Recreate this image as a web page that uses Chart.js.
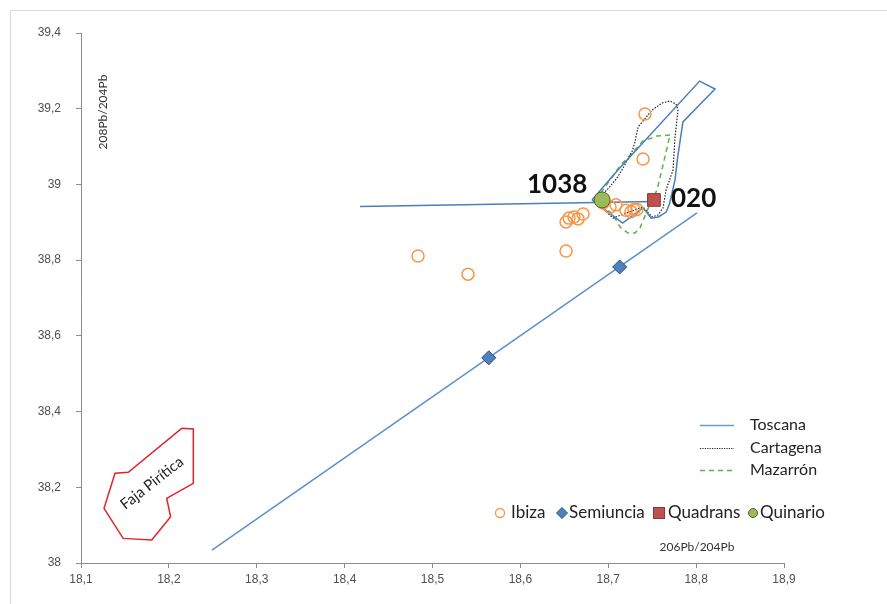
<!DOCTYPE html>
<html>
<head>
<meta charset="utf-8">
<script src="https://cdn.jsdelivr.net/npm/chart.js@4"></script>
<style>
  body { margin: 0; background: #fff; }
  canvas { display: block; }
</style>
</head>
<body>
<canvas id="c" width="887" height="604"></canvas>
<script>
// 206Pb/204Pb (x) , 208Pb/204Pb (y)
const xTicks = { min: 18.1, max: 18.9, step: 0.1 };
const yTicks = { min: 38, max: 39.4, step: 0.2 };

const ibiza = [
  [18.4835, 38.811], [18.5404, 38.763], [18.652, 38.824], [18.652, 38.901],
  [18.6553, 38.911], [18.661, 38.914], [18.6656, 38.909], [18.6713, 38.922],
  [18.694, 38.951], [18.702, 38.940], [18.7088, 38.946], [18.7202, 38.932],
  [18.7259, 38.928], [18.7293, 38.934], [18.7327, 38.934], [18.7396, 39.067],
  [18.7418, 39.186]
];
const semiuncia = [[18.564, 38.542], [18.713, 38.782]];
const semiunciaTrend = [[18.249, 38.034], [18.801, 38.925]];
const quadrans = [[18.752, 38.959]];
const quinario = [[18.693, 38.959]];

const toscanaPoly = [
  [18.6815, 38.959], [18.711, 39.038], [18.804, 39.273], [18.8215, 39.252],
  [18.785, 39.165], [18.779, 39.072], [18.776, 39.012], [18.770, 38.951],
  [18.766, 38.927], [18.757, 38.914], [18.749, 38.911], [18.7395, 38.938],
  [18.7164, 38.898], [18.6815, 38.959]
];
const toscanaLine = [[18.4175, 38.942], [18.753, 38.955]];

const cartagena = [
  [18.6883, 38.9668], [18.6986, 38.9853], [18.71, 39.017], [18.7168, 39.0434],
  [18.727, 39.0857], [18.7304, 39.1121], [18.7339, 39.1517], [18.7499, 39.1966],
  [18.7613, 39.2151], [18.7703, 39.2204], [18.7771, 39.2125], [18.7794, 39.1966],
  [18.776, 39.1253], [18.7737, 39.0381], [18.7658, 38.9853], [18.7623, 38.9377],
  [18.7566, 38.9193], [18.7499, 38.914], [18.7395, 38.9404], [18.7054, 38.9113],
  [18.6906, 38.943], [18.6883, 38.9668]
];

const mazarron = [
  [18.7703, 39.1306], [18.7555, 39.1279], [18.7396, 39.1147], [18.7248, 39.0777],
  [18.7134, 39.0487], [18.702, 39.0117], [18.6906, 38.9747], [18.6917, 38.9404],
  [18.7043, 38.9245], [18.7134, 38.8876], [18.7225, 38.8717], [18.7304, 38.8717],
  [18.7361, 38.8849], [18.7475, 38.9483], [18.7555, 38.9853], [18.7623, 39.0513],
  [18.7669, 39.0962], [18.7703, 39.1306]
];

const fajaPiritica = [
  [18.2146, 38.3558], [18.2278, 38.354], [18.2278, 38.2105], [18.1975, 38.171],
  [18.202, 38.122], [18.1805, 38.061], [18.148, 38.065], [18.1262, 38.1445],
  [18.1387, 38.237], [18.1538, 38.2396], [18.2146, 38.3558]
];

const pts = (arr) => arr.map(([x, y]) => ({ x, y }));
const fmt = (v) => String(Math.round(v * 10) / 10).replace('.', ',');

const BLUE = '#4a7ebb';
const ORANGE = '#f79646';
const GREEN_DASH = '#5db443';
const RED = '#e0242c';

function lineSet(data, color, width, dash, order) {
  return {
    data: pts(data), showLine: true, borderColor: color, borderWidth: width,
    borderDash: dash || [], pointRadius: 0, pointHoverRadius: 0, fill: false,
    tension: 0, order: order
  };
}

const overlay = {
  id: 'overlay',
  afterDraw(chart) {
    const ctx = chart.ctx;
    ctx.save();

    // frame
    ctx.strokeStyle = '#d9d9d9';
    ctx.lineWidth = 1;
    ctx.strokeRect(10.5, 10.5, 890, 610);

    // point labels
    ctx.fillStyle = '#111';
    ctx.font = 'bold 26px Lato, "Liberation Sans", sans-serif';
    ctx.textBaseline = 'alphabetic';
    ctx.textAlign = 'left';
    ctx.fillText('1038', 527, 193);
    ctx.fillText('020', 671, 207);

    // Faja Piritica label
    ctx.save();
    ctx.translate(152, 483);
    ctx.rotate(-38 * Math.PI / 180);
    ctx.font = '15px Lato, sans-serif';
    ctx.textAlign = 'center';
    ctx.textBaseline = 'middle';
    ctx.fillStyle = '#222';
    ctx.fillText('Faja Pirítica', 0, 0);
    ctx.restore();

    // axis titles
    ctx.fillStyle = '#333';
    ctx.font = '12px Lato, sans-serif';
    ctx.textAlign = 'center';
    ctx.textBaseline = 'middle';
    ctx.save();
    ctx.translate(103, 112);
    ctx.rotate(-Math.PI / 2);
    ctx.fillText('208Pb/204Pb', 0, 0);
    ctx.restore();
    ctx.fillText('206Pb/204Pb', 697, 547);

    // line legend
    const lineLegend = [
      { label: 'Toscana', color: '#6a9bd4', dash: [], w: 1.5, y: 425 },
      { label: 'Cartagena', color: '#222', dash: [1.2, 1.2], w: 1.2, y: 448 },
      { label: 'Mazarrón', color: GREEN_DASH, dash: [5, 4], w: 1.5, y: 470 }
    ];
    ctx.font = '16px Lato, sans-serif';
    ctx.textAlign = 'left';
    lineLegend.forEach(it => {
      ctx.beginPath();
      ctx.setLineDash(it.dash);
      ctx.strokeStyle = it.color;
      ctx.lineWidth = it.w;
      ctx.moveTo(700, it.y + 0.5);
      ctx.lineTo(734, it.y + 0.5);
      ctx.stroke();
      ctx.setLineDash([]);
      ctx.fillStyle = '#222';
      ctx.fillText(it.label, 750, it.y);
    });

    // marker legend
    const ly = 513;
    ctx.font = '17px Lato, sans-serif';
    ctx.fillStyle = '#222';
    // Ibiza
    ctx.beginPath();
    ctx.arc(500, ly, 4.5, 0, Math.PI * 2);
    ctx.strokeStyle = ORANGE; ctx.lineWidth = 1.3; ctx.stroke();
    ctx.fillText('Ibiza', 511, ly);
    // Semiuncia
    ctx.beginPath();
    ctx.moveTo(562, ly - 5.5); ctx.lineTo(567.5, ly); ctx.lineTo(562, ly + 5.5); ctx.lineTo(556.5, ly);
    ctx.closePath();
    ctx.fillStyle = '#4f81bd'; ctx.fill();
    ctx.strokeStyle = '#2c4d75'; ctx.lineWidth = 1; ctx.stroke();
    ctx.fillStyle = '#222';
    ctx.fillText('Semiuncia', 569, ly);
    // Quadrans
    ctx.fillStyle = '#c0504d';
    ctx.fillRect(653.5, ly - 5.5, 11, 11);
    ctx.strokeStyle = '#8c3836'; ctx.strokeRect(653.5, ly - 5.5, 11, 11);
    ctx.fillStyle = '#222';
    ctx.fillText('Quadrans', 668, ly);
    // Quinario
    ctx.beginPath();
    ctx.arc(753, ly, 4.5, 0, Math.PI * 2);
    ctx.fillStyle = '#9bbb59'; ctx.fill();
    ctx.strokeStyle = '#4f6228'; ctx.lineWidth = 1; ctx.stroke();
    ctx.fillStyle = '#222';
    ctx.fillText('Quinario', 760, ly);

    ctx.restore();
  }
};

new Chart(document.getElementById('c'), {
  type: 'scatter',
  data: {
    datasets: [
      {
        label: 'Quinario', data: pts(quinario), pointStyle: 'circle', pointRadius: 8,
        backgroundColor: '#9bbb59', borderColor: '#4f6228', borderWidth: 1, order: 1
      },
      {
        label: 'Quadrans', data: pts(quadrans), pointStyle: 'rect', pointRadius: 9,
        backgroundColor: '#c0504d', borderColor: '#8c3836', borderWidth: 1, order: 2
      },
      {
        label: 'Semiuncia', data: pts(semiuncia), pointStyle: 'rectRot', pointRadius: 7,
        backgroundColor: '#4f81bd', borderColor: '#2c4d75', borderWidth: 1, order: 3
      },
      {
        label: 'Ibiza', data: pts(ibiza), pointStyle: 'circle', pointRadius: 6,
        backgroundColor: 'rgba(0,0,0,0)', borderColor: ORANGE, borderWidth: 1.5, order: 4
      },
      Object.assign(lineSet(toscanaLine, BLUE, 1.5, null, 5), { label: 'Toscana' }),
      Object.assign(lineSet(toscanaPoly, BLUE, 1.5, null, 6), { label: 'Toscana' }),
      Object.assign(lineSet(cartagena, '#222', 1.2, [1.5, 1.5], 7), { label: 'Cartagena' }),
      Object.assign(lineSet(mazarron, GREEN_DASH, 1.5, [5, 4], 8), { label: 'Mazarrón' }),
      Object.assign(lineSet(semiunciaTrend, '#5b8fcf', 1.5, null, 9), { label: 'trend' }),
      Object.assign(lineSet(fajaPiritica, RED, 1.5, null, 10), { label: 'Faja Pirítica' })
    ]
  },
  options: {
    responsive: false,
    animation: false,
    layout: { padding: { top: 33, right: 103, left: 0, bottom: 0 } },
    plugins: { legend: { display: false }, tooltip: { enabled: false } },
    scales: {
      x: {
        type: 'linear', min: xTicks.min, max: xTicks.max,
        afterFit: (s) => { s.height = 41; },
        border: { display: true, color: '#8c8c8c', width: 1 },
        grid: { display: true, drawOnChartArea: false, drawTicks: true, tickLength: 5, color: '#8c8c8c' },
        ticks: {
          stepSize: xTicks.step, padding: 4, color: '#505050',
          font: { family: '"Liberation Sans Narrow", "Liberation Sans", sans-serif', size: 12 },
          callback: (v) => fmt(v)
        }
      },
      y: {
        type: 'linear', min: yTicks.min, max: yTicks.max,
        afterFit: (s) => { s.width = 81; },
        border: { display: true, color: '#8c8c8c', width: 1 },
        grid: { display: true, drawOnChartArea: false, drawTicks: true, tickLength: 5, color: '#8c8c8c' },
        ticks: {
          stepSize: yTicks.step, padding: 15, color: '#505050',
          font: { family: '"Liberation Sans Narrow", "Liberation Sans", sans-serif', size: 12 },
          callback: (v) => fmt(v)
        }
      }
    }
  },
  plugins: [overlay]
});
</script>
</body>
</html>
